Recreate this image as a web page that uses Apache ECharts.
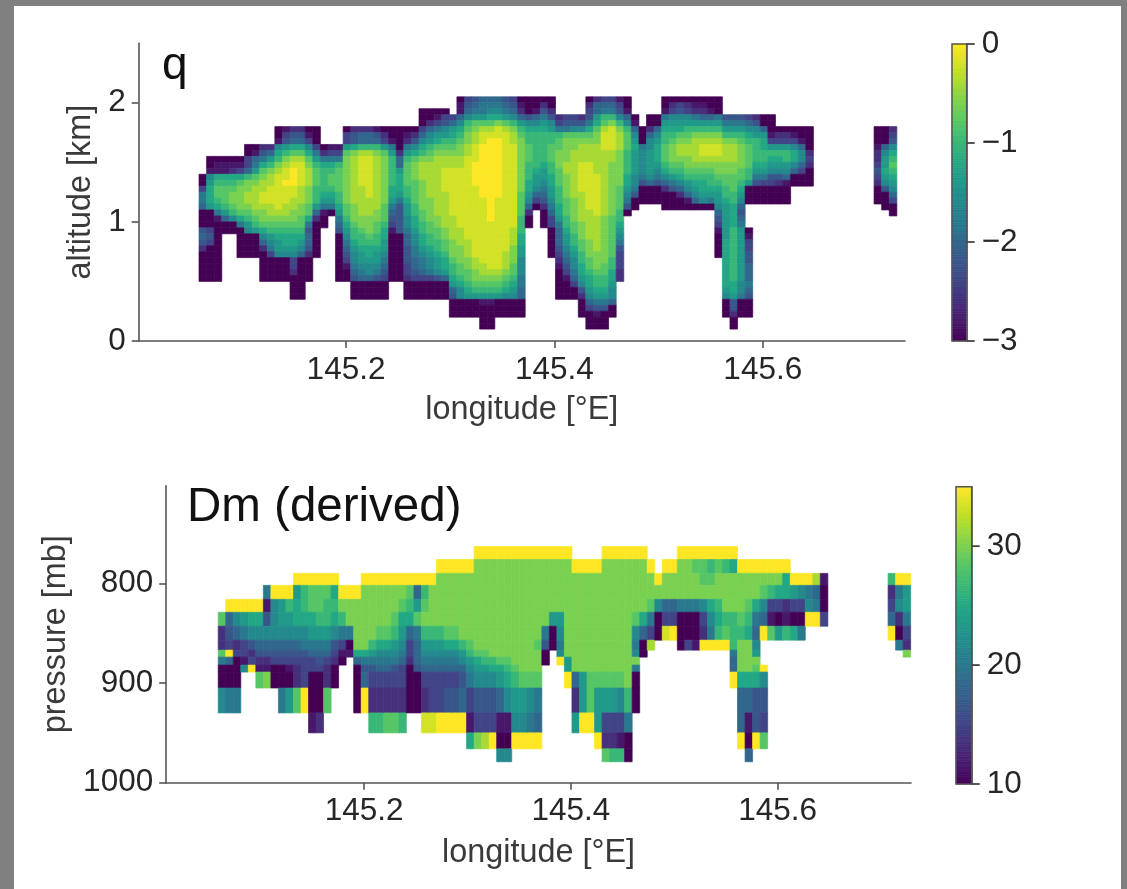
<!DOCTYPE html>
<html><head><meta charset="utf-8">
<script src="https://cdn.jsdelivr.net/npm/echarts@6/dist/echarts.min.js"></script>
<style>
html,body{margin:0;padding:0;background:#808080;width:1127px;height:889px;overflow:hidden}
#paper{position:absolute;left:14px;top:6px;width:1107px;height:883px;background:#fff}
#chart{position:absolute;left:0;top:0;width:1127px;height:889px;filter:blur(0.55px)}
</style></head><body>
<div id="paper"></div><div id="chart"></div>
<script>
// Cell levels: one string per longitude column, top row first.
// '.' = no data, 0..f = 16 colour levels from bottom to top of the colour bar.
const qColumns = [
".............003665000454200000",
"..........001789998000343000000",
"..........0119abba9610000000000",
"..........0119abbba8500",
"..........0129abccba700",
"..........0139bccccb9600000",
"........00335accddcba870000",
"........01568bcddddcba80000",
"........2469bcddeedccb975200000",
"........258acddeeeddcba87630000",
".....00179acdeeeeeedcba98870000",
".....1348acdeefeeeddcba99870000",
".....2459bdefffeeddccba99873320000",
".....2459bdeeeedddccbba98750000000",
".....01379bcdddcccbb96455420000",
".....000368abbbaaa852000000",
"........0269aaaa986100",
"........1369abba9860",
"........136abbbbaa9865400000000",
".....0338bccccccccbba9876543100",
".....2449cddddddddcccbaa9877654000",
".....255adeeeeedddddccbaa988765000",
".....255adeeeeeeedddcccba998775000",
".....145acdddddddddccbbaa988764000",
".....0238bccccccccbbba998876543000",
".....00168aaaaa9986543100000000",
".....00002558999864444400000000",
".....01268abbbbaa98877655444332000",
".....02479bcccbbbbaa99877665543000",
"..0003579acdddcccccbbaa99876653000",
"..002578abcddddddccccbbaa987763000",
"..013689bcddddddddddccbbaa98874000",
"..03478abcddeeeeddddddccbba9985000",
"...3589abcddeeeeeeeeddddcccbaa9854000",
"011579abccddeeeeeeeeeedddcccbba977000",
"3457abccddeeeeeeeeeeeeeedddccbba98000",
"4568bcddeeeffffeeeeeeeeeeeeddccba8000",
"5668bdeefffffffffeeeeeeeeeeeddcba810000",
"5679bdeffffffffffffffeeeeeeeedcba810000",
"5679ceeffffffffffeeeeeeeeeeeedcba8000",
"4568bdeeeeeeeeeeeeeeeeeeeedddcba97000",
"3457acddeeeeeeeeeeeeeedddcccbba987000",
"01258abcccccccccbbbbaaa99887776655000",
"000479aabbbaaa99875200",
"001579aaaaaa9887530",
"024689aaaaa98876542000",
"002478aabbbaa99887653300000",
"...236abbcccbbbaaa9986555432100000",
"...346bccccddccccbbbaa988765431000",
"...347bccddddddddccccbbaa987765300",
"...247bcdddeeeeedddddcccbbaa998742000",
"023469bcdddeeeeeeeedddddcccbba998753000",
"25589bccdddddeeeeeeeddddddcccbaa9864100",
"356abdeeedddddddddddccccccccbbaa9864000",
"356aceeeeddcccccccccbbbbbbbaa99877500",
"1347acdddccccccbbbbaa9876433322",
"00157abbbaaaa9987640",
"...0157898888776400",
".....0006777764000",
"...002577888875000",
"...005789998764000",
"001689aabbba9752000",
"023789abcccba864000",
"034789bcddcba975200",
"02378abcddccba87510",
"01268acddddcba98750",
"01258acdeedcba99870",
"00158acdeedcbaa9860",
"00068acdeedccba988754310000",
"...468acdddccbbaa98888889999999987000",
"...468acdddccbbbaa9999aaaaaaaaa99844200",
"...468abccccbba9875456888888888776000",
"...3579abbbbaa8000....013344555654000",
"...2478aaaa9864000",
"...005899aa9863000",
"...000138a98743000",
".....0238a98742000",
".....0238aa8751000",
".....0137997500",
".....0015775300",
".....0000232000",
"","","","","","","","",
".....0001223432000",
".....00057889874000",
".....23479aba9875300"
];
const dmColumns = [
".....b22b6007",
"....f543f5006",
"....f75230006",
"....f863317",
"....f97423f",
"....f975421b",
"...61475421c",
"...f77754300",
"...f887543006",
"...fa87543108",
"..f899754322b",
"..faa9764333f",
"..fbb986533001",
"..fbba86543002",
"..fbaa865322b",
"..f9a9743200",
"...fca6310",
"...fcc601",
"...fcccc95000",
"..fccccc9645f",
"..fcccca86432a",
"..fcccb976532a",
"..fcccb976532b",
"..fccba876432b",
"..fcb98765332a",
"..fba95332000",
"..f58b6555400",
"..fabca876532e",
"..fccca876533e",
".fcccca876533f",
".fccccb976534f",
".fccccb976534f",
".fccccca87545f",
".fcccccba876319",
"fcccccccb98743c",
"fcccccccba8743d",
"fcccccccca9743f",
"fccccccccb985107",
"fccccccccba97107",
"fcccccccccba87f",
"fccccccccccb87f",
"fccccccccccb76f",
"fccccccbcccb65f",
"fccccc6400",
"fcccc800",
"fcccc8767f",
"fcccccccc88f",
".fccccccccc528",
".fccccccccc88f",
".fcccccccccbbf",
".fcccccccccb88f",
"fccccccccccb832b",
"fccccccccccb832a",
"fccccccccccb731a",
"fccccccccccca600",
"fccccb767c600",
"fcccc9500",
".fccb63d",
"..fc700",
".fcc53e",
".fcc53f",
"fccc6000",
"fccc6003",
"fbcc6001",
"fbbc732f",
"fabc976f",
"fbcca9af",
"facccabf",
"f9cccaaa655f",
".fcccbacccc955f",
".fccba9cccc95105",
".fcc96578cb944f",
".fcb75f...f743b",
".fca31b",
".fc9308",
".f9921a",
"..f8309",
"..f7306",
"..f67f",
"..d56f",
"..1003",
"","","","","","","","",
"..a235f",
"..f67206",
"..f88632c"
];
const altitudeEdges = [2.05,2.0,1.95,1.9,1.85,1.8,1.75,1.7,1.65,1.6,1.55,1.5,1.45,1.4,1.35,1.3,1.25,1.2,1.15,1.1,1.05,1.0,0.95,0.9,0.85,0.8,0.75,0.7,0.65,0.6,0.55,0.5,0.45,0.4,0.35,0.3,0.25,0.2,0.15,0.1];
const pressureEdges = [763,776,790,802,816,829,843,857,867,874,882,889,905,930,950,966,979];
const lonStart = 145.0589, lonStep = 0.00728;
const lonTicks = [145.2,145.4,145.6];
const altTicks = [0,1,2];
const pressureTicks = [800,900,1000];
const qTicks = [-3,-2,-1,0];
const dmTicks = [10,20,30];
const qRange = [-3,0], dmRange = [10,35];
const viridis = ['#440154','#482475','#414487','#355f8d','#2a788e','#21918c','#22a884','#44bf70','#7ad151','#bddf26','#fde725'];

function decode(columns, edges, range){
  const out = [];
  columns.forEach((s,c)=>{
    for(let r=0;r<s.length && r<edges.length-1;r++){
      const ch = s[r];
      if(ch==='.') continue;
      const v = range[0] + parseInt(ch,16)/15*(range[1]-range[0]);
      out.push([lonStart+c*lonStep, lonStart+(c+1)*lonStep, edges[r], edges[r+1], v]);
    }
  });
  return out;
}
function ramp(range){
  const out=[], n=120, d=(range[1]-range[0])/n;
  for(let i=0;i<n;i++){ const a=range[0]+i*d; out.push([0,1,a,a+d,a+d/2]); }
  return out;
}
function cell(params, api){
  const a=api.coord([api.value(0),api.value(2)]), b=api.coord([api.value(1),api.value(3)]);
  const v=api.visual('color');
  return {type:'rect',shape:{x:Math.min(a[0],b[0]),y:Math.min(a[1],b[1]),
    width:Math.abs(a[0]-b[0]),height:Math.abs(a[1]-b[1])},style:{fill:v,stroke:v,lineWidth:0.7}};
}
// colour-bar outline plus its outward tick marks, placed through the bar's own y axis
function frameWith(ticks){
  return function(params, api){
    const a=api.coord([api.value(0),api.value(2)]), b=api.coord([api.value(1),api.value(3)]);
    const kids=[{type:'rect',shape:{x:Math.min(a[0],b[0]),y:Math.min(a[1],b[1]),
      width:Math.abs(a[0]-b[0]),height:Math.abs(a[1]-b[1])},style:{fill:'none',stroke:'#555',lineWidth:1.5}}];
    ticks.forEach(t=>{
      const p=api.coord([1,t]);
      kids.push({type:'rect',shape:{x:p[0],y:p[1]-0.9,width:8,height:1.8},style:{fill:'#444'}});
    });
    return {type:'group',children:kids};
  };
}
const FONT='"Liberation Sans",Arial,sans-serif', INK='#262626', AX='#555';
const lineS={show:true,onZero:false,lineStyle:{color:AX,width:1.6}};
const tick=(vals)=>({show:true,length:7,customValues:vals,lineStyle:{color:AX,width:1.6}});
const lab=(vals,m,fmt)=>({show:true,customValues:vals,margin:m,fontFamily:FONT,fontSize:31.5,color:INK,formatter:fmt});
const nm={fontFamily:FONT,fontSize:32.4,color:'#3a3a3a'};
const xAx=(i,min,max,gap)=>({type:'value',gridIndex:i,position:'bottom',min,max,axisLine:lineS,axisTick:tick(lonTicks),
  axisLabel:lab(lonTicks,13,v=>v.toFixed(1)),splitLine:{show:false},name:'longitude [°E]',nameLocation:'middle',nameGap:gap,nameTextStyle:nm});
const hiddenX=(i)=>({type:'value',gridIndex:i,min:0,max:1,show:false});
const minus=v=>String(v).replace('-','\u2212');
const cbY=(i,r,t,m)=>({type:'value',gridIndex:i,position:'right',min:r[0],max:r[1],axisLine:lineS,axisTick:{show:false},
  axisLabel:lab(t,m,minus),splitLine:{show:false}});

const chart = echarts.init(document.getElementById('chart'));
chart.setOption({
  animation:false,
  backgroundColor:'transparent',
  title:[
    {text:'q',left:162,top:43,padding:0,textStyle:{fontFamily:FONT,fontSize:46,fontWeight:'normal',color:'#111'}},
    {text:'Dm (derived)',left:187,top:484,padding:0,textStyle:{fontFamily:FONT,fontSize:47.5,fontWeight:'normal',color:'#111'}}
  ],
  grid:[
    {left:138.7,top:43.2,width:766.3,height:297.8},
    {left:166.2,top:485.7,width:744.8,height:297},
    {left:952,top:44,width:14.7,height:297},
    {left:956,top:486.7,width:15.7,height:297.3}
  ],
  xAxis:[
    xAx(0,145.001,145.7365,53),
    xAx(1,145.0086,145.729,54),
    hiddenX(2),hiddenX(3)
  ],
  yAxis:[
    {type:'value',gridIndex:0,min:0,max:2.5,axisLine:lineS,axisTick:tick(altTicks),axisLabel:lab(altTicks,13,v=>String(v)),splitLine:{show:false},
     name:'altitude [km]',nameLocation:'middle',nameGap:37,nameTextStyle:nm},
    {type:'value',gridIndex:1,inverse:true,min:702,max:1000,axisLine:lineS,axisTick:tick(pressureTicks),axisLabel:lab(pressureTicks,13,v=>String(v)),splitLine:{show:false},
     name:'pressure [mb]',nameLocation:'middle',nameGap:94,nameTextStyle:nm},
    cbY(2,qRange,qTicks,15),
    cbY(3,dmRange,dmTicks,15)
  ],
  visualMap:[
    {show:false,type:'continuous',seriesIndex:[0,2],dimension:4,min:qRange[0],max:qRange[1],inRange:{color:viridis}},
    {show:false,type:'continuous',seriesIndex:[1,3],dimension:4,min:dmRange[0],max:dmRange[1],inRange:{color:viridis}}
  ],
  series:[
    {type:'custom',name:'q',xAxisIndex:0,yAxisIndex:0,renderItem:cell,encode:{x:[0,1],y:[2,3]},progressive:0,data:decode(qColumns,altitudeEdges,qRange)},
    {type:'custom',name:'Dm (derived)',xAxisIndex:1,yAxisIndex:1,renderItem:cell,encode:{x:[0,1],y:[2,3]},progressive:0,data:decode(dmColumns,pressureEdges,dmRange)},
    {type:'custom',xAxisIndex:2,yAxisIndex:2,renderItem:cell,encode:{x:[0,1],y:[2,3]},progressive:0,data:ramp(qRange)},
    {type:'custom',xAxisIndex:3,yAxisIndex:3,renderItem:cell,encode:{x:[0,1],y:[2,3]},progressive:0,data:ramp(dmRange)},
    {type:'custom',xAxisIndex:2,yAxisIndex:2,z:5,renderItem:frameWith(qTicks),encode:{x:[0,1],y:[2,3]},data:[[0,1,qRange[0],qRange[1]]]},
    {type:'custom',xAxisIndex:3,yAxisIndex:3,z:5,renderItem:frameWith(dmTicks),encode:{x:[0,1],y:[2,3]},data:[[0,1,dmRange[0],dmRange[1]]]}
  ]
});
</script>
</body></html>
